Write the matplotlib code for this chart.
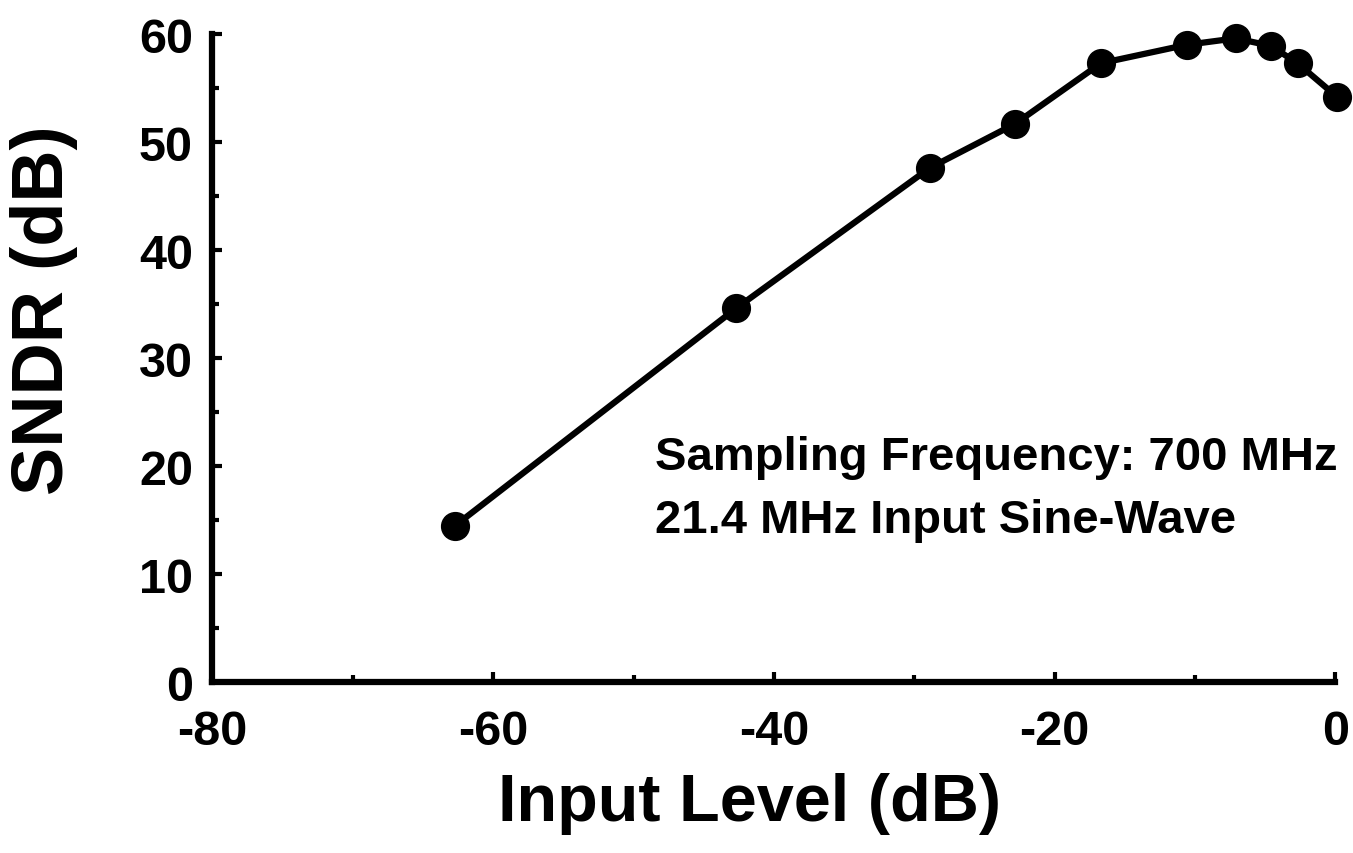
import matplotlib.pyplot as plt
from matplotlib.ticker import MultipleLocator

# values
input_level = [-62.7, -42.7, -28.9, -22.8, -16.7, -10.6, -7.1, -4.6, -2.7, 0.1]
sndr = [14.5, 34.6, 47.6, 51.7, 57.3, 59.0, 59.6, 58.9, 57.3, 54.2]

note_lines = ["Sampling Frequency: 700 MHz", "21.4 MHz Input Sine-Wave"]

plt.rcParams['font.family'] = ['Liberation Sans', 'DejaVu Sans']
plt.rcParams['font.weight'] = 'bold'
plt.rcParams['axes.unicode_minus'] = False

fig = plt.figure(figsize=(13.53, 8.54), dpi=100)
ax = fig.add_axes([0.157, 0.2, 0.83, 0.759])

ax.plot(input_level, sndr, color='black', linewidth=4.5, marker='o',
        markersize=20, clip_on=False, zorder=3)

ax.set_xlim(-80, 0)
ax.set_ylim(0, 60)
ax.xaxis.set_major_locator(MultipleLocator(20))
ax.xaxis.set_minor_locator(MultipleLocator(10))
ax.yaxis.set_major_locator(MultipleLocator(10))
ax.yaxis.set_minor_locator(MultipleLocator(5))

for side in ['top', 'right']:
    ax.spines[side].set_visible(False)
for side in ['left', 'bottom']:
    ax.spines[side].set_linewidth(4.5)

ax.tick_params(which='both', direction='in', width=3, labelsize=35)
ax.tick_params(which='major', length=7)
ax.tick_params(which='minor', length=5)
ax.tick_params(axis='x', pad=19)
ax.tick_params(axis='y', pad=14)
for lbl in ax.get_xticklabels() + ax.get_yticklabels():
    lbl.set_fontweight('bold')

ax.set_xlabel("Input Level (dB)", fontsize=48, fontweight='bold')
ax.xaxis.set_label_coords(0.478, -0.138)
ax.set_ylabel("SNDR (dB)", fontsize=52, fontweight='bold')
ax.yaxis.set_label_coords(-0.12, 0.575)

ax.text(-48.5, 20.8, note_lines[0], fontsize=34, fontweight='bold',
        ha='left', va='center')
ax.text(-48.5, 15.0, note_lines[1], fontsize=34, fontweight='bold',
        ha='left', va='center')

fig.savefig("out.png", dpi=100)
